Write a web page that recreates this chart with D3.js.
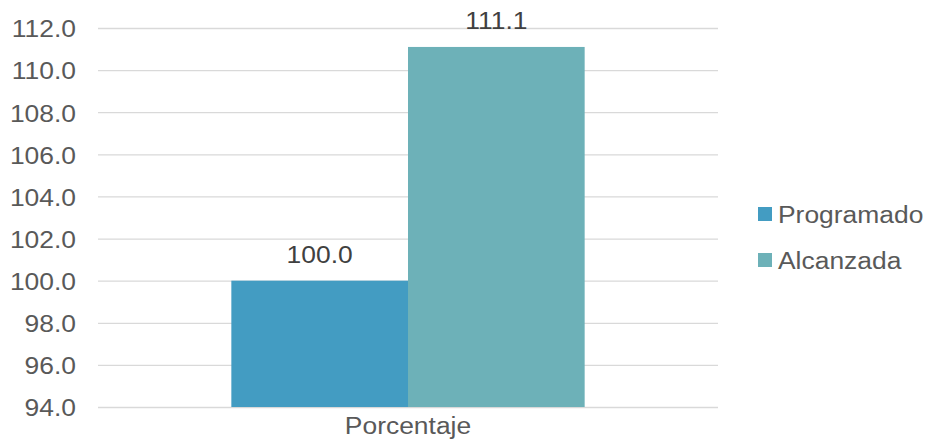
<!DOCTYPE html>
<html>
<head>
<meta charset="utf-8">
<script src="https://cdn.jsdelivr.net/npm/d3@7"></script>
<style>
  html, body { margin: 0; padding: 0; background: #ffffff; }
  svg { display: block; }
  text { font-family: "Liberation Sans", Arial, sans-serif; fill: #595959; }
</style>
</head>
<body>
<svg id="chart" width="925" height="440"></svg>
<script>
const categories = ["Porcentaje"];
const seriesNames = ["Programado", "Alcanzada"];
const programado = [100.0];
const alcanzada = [111.1];
const yTicks = [94, 96, 98, 100, 102, 104, 106, 108, 110, 112];
const colors = ["#439CC2", "#6DB1B8"];

const FS = 24.7, SX = 1.07;
const svg = d3.select("#chart");
const mLeft = 98, mRight = 718, mTop = 28, mBottom = 407;

const x0 = d3.scaleBand().domain(categories).range([mLeft, mRight]).padding(0.274);
const x1 = d3.scaleBand().domain(seriesNames).range([0, x0.bandwidth()]).padding(0);
const y = d3.scaleLinear().domain([94, 112]).range([mBottom, mTop]);

// gridlines + y axis
const yAxis = d3.axisLeft(y).tickValues(yTicks).tickFormat(d3.format(".1f"))
  .tickSize(-(mRight - mLeft)).tickPadding(22);
const gy = svg.append("g").attr("transform", `translate(${mLeft},0)`).call(yAxis);
gy.select(".domain").remove();
gy.selectAll(".tick line").attr("stroke", "#D9D9D9").attr("stroke-width", 1.3);
gy.selectAll(".tick text")
  .attr("x", null).attr("dy", null)
  .attr("transform", `translate(-22,8.8) scale(${SX},1)`)
  .style("font-size", FS + "px").attr("fill", "#595959");

const data = categories.map((c, i) => ({
  cat: c,
  vals: [{ s: seriesNames[0], v: programado[i] }, { s: seriesNames[1], v: alcanzada[i] }]
}));

const g = svg.selectAll(".grp").data(data).enter().append("g")
  .attr("transform", d => `translate(${x0(d.cat)},0)`);

g.selectAll("rect").data(d => d.vals).enter().append("rect")
  .attr("x", d => x1(d.s))
  .attr("width", x1.bandwidth())
  .attr("y", d => y(d.v))
  .attr("height", d => y(94) - y(d.v))
  .attr("fill", (d, i) => colors[i]);

g.selectAll("text.lbl").data(d => d.vals).enter().append("text")
  .attr("class", "lbl")
  .attr("text-anchor", "middle")
  .attr("transform", d => `translate(${x1(d.s) + x1.bandwidth() / 2},${y(d.v) - 18}) scale(${SX},1)`)
  .style("font-size", FS + "px")
  .style("fill", "#404040")
  .text(d => d3.format(".1f")(d.v));

// x axis labels
svg.selectAll("text.cat").data(categories).enter().append("text")
  .attr("class", "cat")
  .attr("text-anchor", "middle")
  .attr("transform", d => `translate(${x0(d) + x0.bandwidth() / 2},434) scale(${SX},1)`)
  .style("font-size", FS + "px")
  .text(d => d);

// legend
const lg = svg.append("g").attr("transform", "translate(758,207)");
const items = lg.selectAll("g").data(seriesNames).enter().append("g")
  .attr("transform", (d, i) => `translate(0,${i * 46})`);
items.append("rect").attr("width", 14).attr("height", 14).attr("fill", (d, i) => colors[i]);
items.append("text")
  .attr("transform", `translate(20,16) scale(${SX},1)`)
  .style("font-size", FS + "px")
  .text(d => d);
</script>
</body>
</html>
